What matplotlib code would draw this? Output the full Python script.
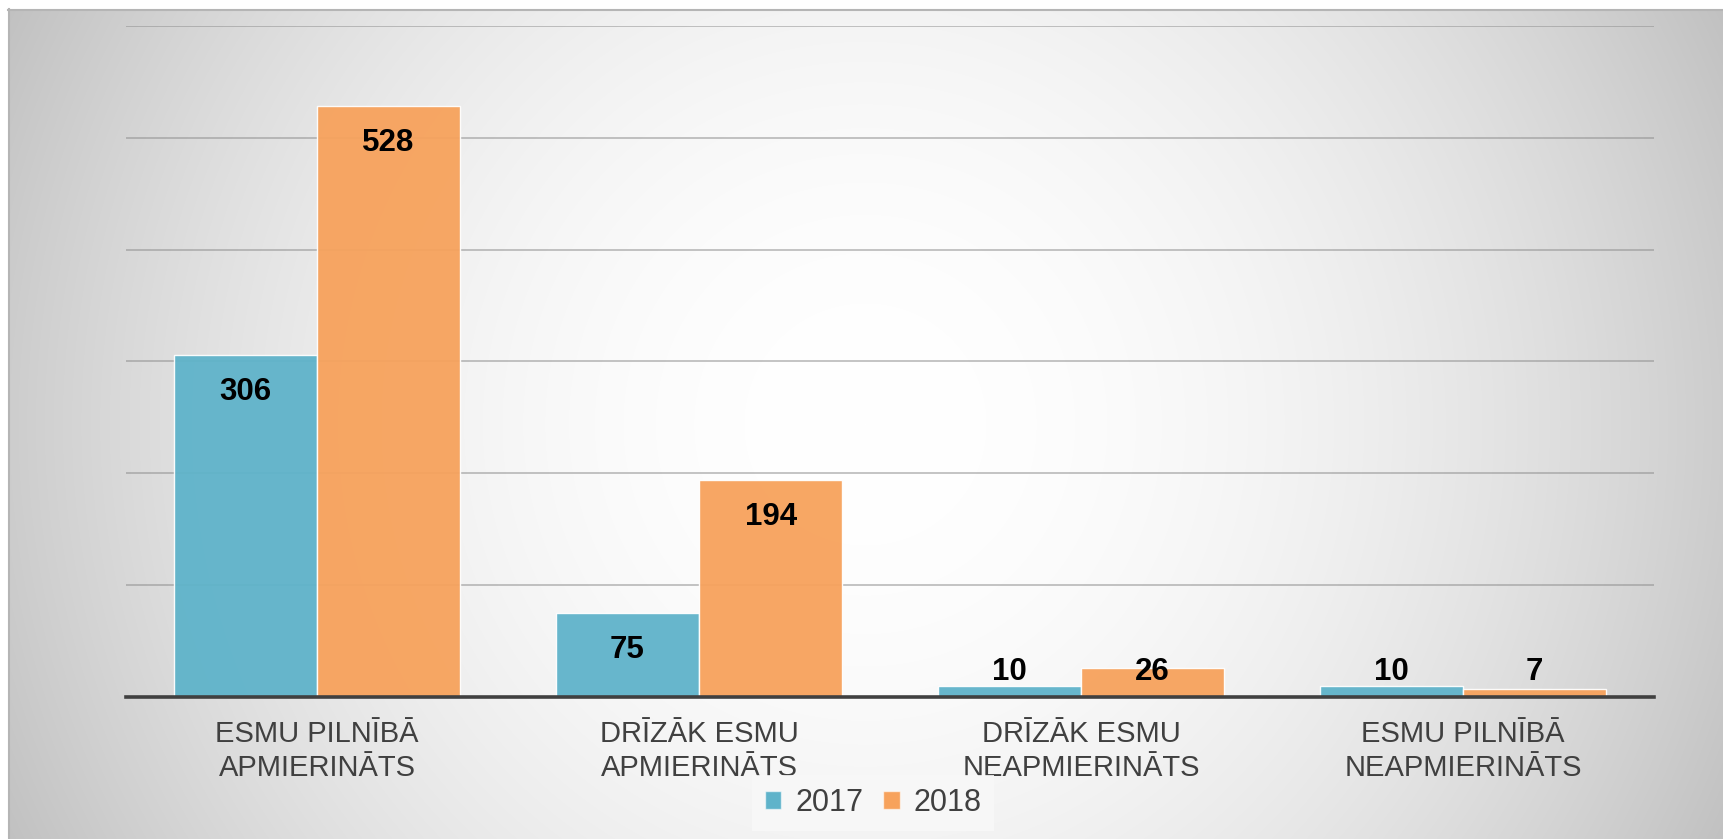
import numpy as np
import matplotlib
matplotlib.use("Agg")
import matplotlib.pyplot as plt
from matplotlib.patches import Patch
from matplotlib.lines import Line2D

categories = ["ESMU PILNĪBĀ\nAPMIERINĀTS", "DRĪZĀK ESMU\nAPMIERINĀTS",
              "DRĪZĀK ESMU\nNEAPMIERINĀTS", "ESMU PILNĪBĀ\nNEAPMIERINĀTS"]
series_names = ["2017", "2018"]
values_2017 = [306, 75, 10, 10]
values_2018 = [528, 194, 26, 7]

W, H, DPI = 1723, 839, 100
fig = plt.figure(figsize=(W / DPI, H / DPI), dpi=DPI)
fig.patch.set_facecolor("white")

# background radial gradient panel
px0, py_top = 8, 9
bg = fig.add_axes([px0 / W, 0, 1 - px0 / W, (H - py_top) / H], zorder=0)
gw, gh = W - px0, H - py_top
xx, yy = np.meshgrid(np.arange(gw), np.arange(gh))
cx, cy = 865 - px0, 424 - py_top
r = np.hypot(xx - cx, yy - cy)
d = np.clip(r / np.hypot(gw / 2, gh / 2), 0, 1) ** 2
val = 255 - 62 * d
img = np.dstack([val, val, val]) / 255.0
bg.imshow(img, aspect="auto", extent=(0, gw, gh, 0), interpolation="bilinear")
bg.set_xlim(0, gw)
bg.set_ylim(gh, 0)
bg.axis("off")
fig.add_artist(Line2D([px0 / W, 1], [(H - py_top - 0.5) / H] * 2, color="#b5b5b5", lw=1.5))
fig.add_artist(Line2D([(px0 + 0.5) / W] * 2, [0, (H - py_top) / H], color="#b5b5b5", lw=1.5))

# main axes
left, right = 126 / W, 1654 / W
bottom = (H - 696.8) / H
top = (H - 26) / H
ax = fig.add_axes([left, bottom, right - left, top - bottom], zorder=1)
ax.set_facecolor("none")

x = np.arange(len(categories))
bw = 0.375
c17, c18 = "#5fb3ca", "#f7a25c"
ax.bar(x - bw / 2, values_2017, bw, color=c17, alpha=0.95, edgecolor=(1, 1, 1, 0.6), linewidth=1.0, zorder=3)
ax.bar(x + bw / 2, values_2018, bw, color=c18, alpha=0.95, edgecolor=(1, 1, 1, 0.6), linewidth=1.0, zorder=3)

for xs, vals in ((x - bw / 2, values_2017), (x + bw / 2, values_2018)):
    for xi, v in zip(xs, vals):
        ax.text(xi, max(v - 33, 22), str(v), ha="center", va="center",
                fontsize=22.5, fontweight="bold", family="Liberation Sans", color="black", zorder=5)

ax.set_xlim(-0.5, len(categories) - 0.5)
ax.set_ylim(0, 600)
ax.set_yticks(np.arange(100, 601, 100))
ax.yaxis.grid(True, color="#8c8c8c", alpha=0.55, lw=1.3, zorder=1)
ax.set_axisbelow(True)
ax.tick_params(axis="y", left=False, labelleft=False)
ax.set_xticks(x)
ax.set_xticklabels(categories, fontsize=21, color="#404040", family="Liberation Sans", linespacing=1.25)
ax.tick_params(axis="x", length=0, pad=17)
for s in ("left", "right", "top"):
    ax.spines[s].set_visible(False)
ax.spines["bottom"].set_color("#404040")
ax.spines["bottom"].set_linewidth(2.6)
ax.spines["bottom"].set_zorder(6)

handles = [Patch(facecolor=c17, edgecolor=(1, 1, 1, 0.6)), Patch(facecolor=c18, edgecolor=(1, 1, 1, 0.6))]
leg = fig.legend(handles, series_names, loc="center", bbox_to_anchor=(873 / W, (H - 803) / H),
                 ncol=2, frameon=True, prop={"family": "Liberation Sans", "size": 22},
                 handlelength=0.55, handleheight=0.55, handletextpad=0.45, columnspacing=0.65,
                 borderpad=0.42, borderaxespad=0, fancybox=False)
leg.get_frame().set_facecolor("#f8f8f8")
leg.get_frame().set_edgecolor("none")
leg.get_frame().set_alpha(0.85)
for t in leg.get_texts():
    t.set_color("#404040")

fig.savefig("out.png", dpi=DPI)
